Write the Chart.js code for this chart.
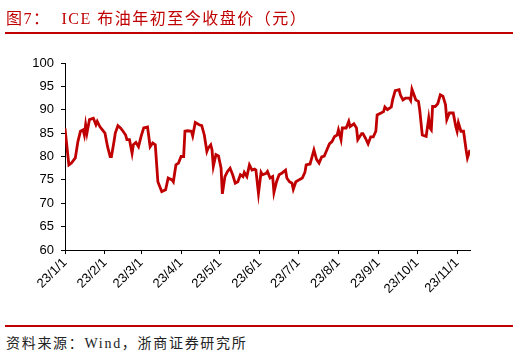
<!DOCTYPE html>
<html>
<head>
<meta charset="utf-8">
<script src="https://cdn.jsdelivr.net/npm/chart.js@4"></script>
<style>
  html, body { margin: 0; padding: 0; background: #fff; }
  #page { position: relative; width: 520px; height: 353px; overflow: hidden; }
  #title {
    position: absolute; left: 6px; top: 5px;
    font-family: "Liberation Serif", "Noto Sans CJK SC", serif;
    font-size: 16px; letter-spacing: 1.5px; color: #c00000; white-space: pre;
  }
  .rule { position: absolute; left: 5px; width: 508px; height: 1.5px; background: #c00000; }
  #source {
    position: absolute; left: 6px; top: 332px;
    font-family: "Liberation Serif", "Noto Sans CJK SC", serif;
    font-size: 14px; letter-spacing: 1.7px; color: #222; white-space: pre;
  }
  #wrap { position: absolute; left: 0; top: 0; width: 520px; height: 310px; }
</style>
</head>
<body>
<div id="page">
  <div id="wrap"><canvas id="mainChart"></canvas></div>
  <div id="title">图7：  ICE 布油年初至今收盘价（元）</div>
  <div class="rule" style="top:32px"></div>
  <div class="rule" style="top:325px"></div>
  <div id="source">资料来源：Wind，浙商证券研究所</div>
</div>
<script>
// day offset from 2023-01-01 and closing price
const tradeDays = [
  0, 3, 5, 8, 10, 12, 14, 15, 16, 17, 19, 22, 24, 25, 27, 29, 31, 33, 35, 36,
  38, 39, 41, 43, 45, 47, 48, 50, 52, 53, 55, 57, 59, 61, 64, 66, 68, 70, 72, 75,
  78, 80, 83, 84, 86, 88, 90, 92, 93, 95, 98, 99, 101, 104, 106, 108, 110, 111, 113, 114,
  115, 117, 119, 121, 122, 124, 126, 128, 130, 132, 134, 136, 138, 139, 141, 143, 145, 147, 148, 150,
  152, 153, 156, 157, 159, 161, 162, 164, 166, 168, 171, 172, 174, 176, 177, 179, 182, 184, 186, 187,
  190, 191, 193, 195, 197, 199, 201, 203, 205, 207, 209, 211, 212, 214, 215, 218, 220, 221, 224, 226,
  227, 230, 231, 233, 235, 237, 239, 241, 242, 245, 247, 248, 250, 253, 254, 256, 259, 260, 262, 264,
  267, 268, 269, 271, 272, 274, 275, 277, 280, 282, 283, 284, 285, 287, 289, 291, 293, 295, 296, 298,
  300, 301, 303, 304, 305, 307, 309, 311, 312, 314
];
const closes = [
  86.0, 78.2, 78.6, 79.7, 83.2, 85.4, 85.7, 84.6, 86.8, 85.0, 87.9, 88.2, 86.8, 87.5, 86.4, 85.7, 85.0, 82.1, 80.0, 80.0,
  83.2, 85.0, 86.6, 86.1, 85.4, 84.6, 83.6, 83.6, 80.7, 82.5, 83.0, 82.1, 84.3, 86.1, 86.3, 82.1, 82.9, 82.5, 74.6, 72.5,
  72.9, 75.4, 75.0, 74.6, 78.2, 78.6, 80.0, 80.0, 85.4, 85.5, 85.4, 84.4, 87.3, 86.8, 86.6, 84.6, 81.1, 81.8, 82.5, 81.4,
  77.9, 80.4, 80.1, 77.5, 72.0, 75.7, 76.8, 77.5, 76.1, 74.3, 74.6, 76.1, 75.7, 76.6, 75.7, 78.2, 77.1, 77.3, 77.1, 72.1,
  76.6, 76.1, 76.4, 76.8, 75.4, 75.7, 72.3, 74.6, 76.1, 76.4, 77.1, 75.4, 74.6, 74.3, 73.0, 74.6, 75.1, 75.4, 76.6, 78.2,
  78.4, 79.4, 81.4, 79.4, 78.6, 79.9, 80.1, 81.4, 82.7, 83.2, 84.3, 84.6, 85.7, 83.6, 86.1, 86.1, 87.5, 86.4, 87.0, 86.1,
  83.6, 84.9, 84.9, 83.9, 82.7, 84.2, 84.2, 85.4, 88.9, 89.3, 89.6, 90.6, 90.0, 90.6, 92.1, 94.1, 94.3, 93.2, 92.1, 92.5,
  92.5, 92.0, 94.4, 92.9, 92.1, 91.8, 90.0, 84.6, 84.3, 88.2, 86.1, 85.7, 90.7, 90.7, 91.3, 93.2, 92.9, 91.1, 87.9, 89.3,
  89.3, 89.3, 86.4, 85.4, 87.2, 85.4, 85.4, 81.4, 79.7, 81.4
];

// month starts (day offset) and their labels
const monthStarts = [0, 31, 59, 90, 120, 151, 181, 212, 243, 273, 304];
const monthLabels = ['23/1/1', '23/2/1', '23/3/1', '23/4/1', '23/5/1', '23/6/1',
                     '23/7/1', '23/8/1', '23/9/1', '23/10/1', '23/11/1'];
const yTicks = [60, 65, 70, 75, 80, 85, 90, 95, 100];

const points = tradeDays.map((d, i) => ({ x: d, y: closes[i] }));
const tickFont = { family: '"Liberation Sans", Arial, sans-serif', size: 13 };

new Chart(document.getElementById('mainChart'), {
  type: 'line',
  data: {
    datasets: [{
      data: points,
      borderColor: '#c00000',
      borderWidth: 2.8,
      pointRadius: 0,
      tension: 0,
      fill: false
    }]
  },
  options: {
    responsive: true,
    maintainAspectRatio: false,
    animation: false,
    layout: { padding: { left: 0, right: 50, top: 63, bottom: 0 } },
    plugins: { legend: { display: false }, tooltip: { enabled: false } },
    scales: {
      x: {
        type: 'linear',
        min: 0,
        max: 314,
        afterBuildTicks: (scale) => { scale.ticks = monthStarts.map(v => ({ value: v })); },
        afterFit: (scale) => { scale.height = 60; },
        ticks: {
          autoSkip: false,
          minRotation: 45,
          maxRotation: 45,
          padding: 1,
          color: '#000',
          font: tickFont,
          callback: (v) => monthLabels[monthStarts.indexOf(v)]
        },
        grid: { drawOnChartArea: false, drawTicks: true, tickLength: 4, color: '#000' },
        border: { display: true, color: '#000', width: 1 }
      },
      y: {
        min: 60,
        max: 100,
        afterBuildTicks: (scale) => { scale.ticks = yTicks.map(v => ({ value: v })); },
        afterFit: (scale) => { scale.width = 65; },
        ticks: { color: '#000', font: tickFont, padding: 7 },
        grid: { drawOnChartArea: false, drawTicks: true, tickLength: 4, color: '#000' },
        border: { display: true, color: '#000', width: 1 }
      }
    }
  }
});
</script>
</body>
</html>
